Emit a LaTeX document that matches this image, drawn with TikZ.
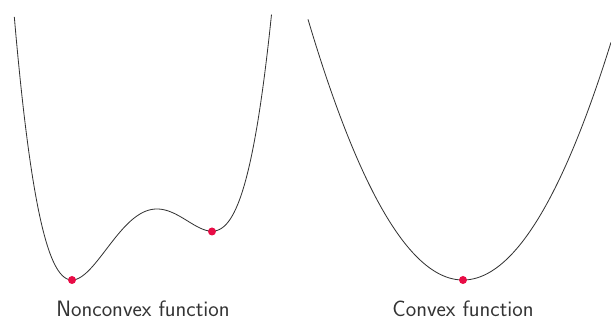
\documentclass[tikz,border=0pt]{standalone}
\usetikzlibrary{positioning}

\definecolor{dotred}{RGB}{232,12,70}

\tikzset{
  curve/.style={black!80, line width=0.7pt},
  minpt/.style={circle, fill=dotred, inner sep=0pt, minimum size=0.24cm},
  caption/.style={font=\sffamily\fontsize{19}{22}\selectfont, text=black!80}
}

\begin{document}
\begin{tikzpicture}[x=0.03cm, y=-0.03cm]
  \useasboundingbox (0,0) rectangle (611,320);

  % Nonconvex curve (quartic, two minima)
  \draw[curve] plot[domain=14.3:271.5, samples=160, smooth]
    (\x, {209 - 711.46*(((\x-157)/100)^4/4 + 0.1*((\x-157)/100)^3 - 0.23375*((\x-157)/100)^2)});
  \node[minpt] (lmin1) at (72,280) {};
  \node[minpt] (lmin2) at (212,231.5) {};
  \node[caption] (lcap) at (143,309) {Nonconvex function};

  % Convex curve (parabola, one minimum)
  \draw[curve] plot[domain=308:611, samples=120, smooth]
    (\x, {280 - 108.5*((\x-463)/100)^2});
  \node[minpt] (rmin) at (463,280) {};
  \node[caption] (rcap) at (463,309) {Convex function};
\end{tikzpicture}
\end{document}
